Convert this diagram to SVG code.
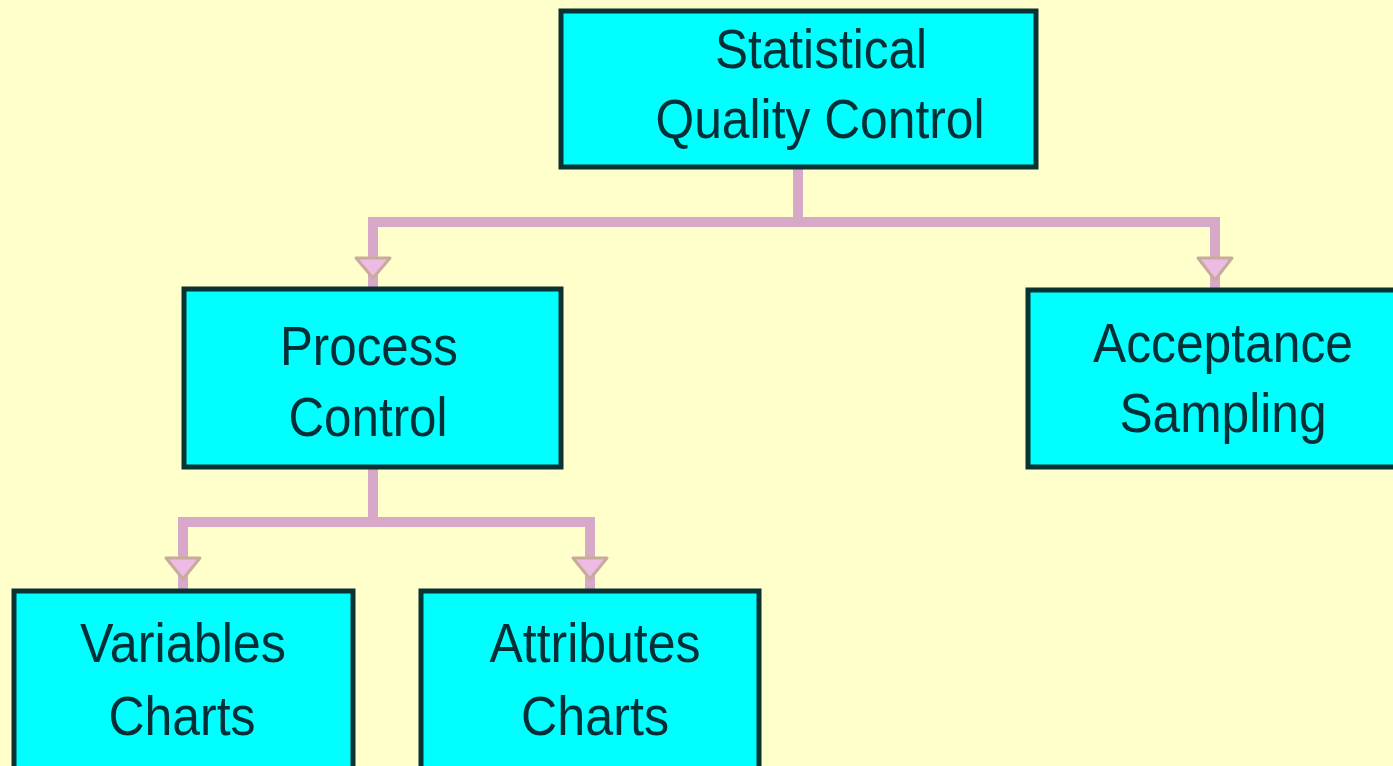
<svg xmlns="http://www.w3.org/2000/svg" width="1393" height="766" viewBox="0 0 1393 766">
<style>
.box{fill:#00FFFF;stroke:#0a3232;stroke-width:5}
.lbl{font-family:"Liberation Sans",Arial,sans-serif;font-size:56px;fill:#052f36;text-anchor:middle}
.con{stroke:#d8a8c8;stroke-width:10;fill:none;stroke-linecap:butt}
.arr{fill:#ecbce4;stroke:#c9ab9c;stroke-width:3;stroke-linejoin:round}
</style>
<rect x="0" y="0" width="1393" height="766" fill="#FFFFCC"/>
<g id="connectors">
<path class="con" d="M798 168 V222 M368 222 H1220 M373 222 V288 M1215 222 V288"/>
<path class="con" d="M373 468 V522 M178 522 H595 M183 522 V590 M590 522 V590"/>
<polygon class="arr" points="356,258 390,258 373,278"/>
<polygon class="arr" points="1198,258 1232,258 1215,280"/>
<polygon class="arr" points="166,558 200,558 183,579"/>
<polygon class="arr" points="573,558 607,558 590,579"/>
</g>
<g id="sqc">
<rect class="box" x="561" y="11" width="475" height="156"/>
<text class="lbl" x="821" y="68" textLength="212" lengthAdjust="spacingAndGlyphs">Statistical</text>
<text class="lbl" x="820" y="138" textLength="329" lengthAdjust="spacingAndGlyphs">Quality Control</text>
</g>
<g id="process">
<rect class="box" x="184" y="289" width="377" height="178"/>
<text class="lbl" x="369" y="365" textLength="178" lengthAdjust="spacingAndGlyphs">Process</text>
<text class="lbl" x="368" y="436" textLength="159" lengthAdjust="spacingAndGlyphs">Control</text>
</g>
<g id="acceptance">
<rect class="box" x="1028" y="290" width="380" height="177"/>
<text class="lbl" x="1223" y="362" textLength="260" lengthAdjust="spacingAndGlyphs">Acceptance</text>
<text class="lbl" x="1223" y="432" textLength="207" lengthAdjust="spacingAndGlyphs">Sampling</text>
</g>
<g id="variables">
<rect class="box" x="14" y="591" width="339" height="190"/>
<text class="lbl" x="183" y="662" textLength="206" lengthAdjust="spacingAndGlyphs">Variables</text>
<text class="lbl" x="182" y="735" textLength="147" lengthAdjust="spacingAndGlyphs">Charts</text>
</g>
<g id="attributes">
<rect class="box" x="421" y="591" width="338" height="190"/>
<text class="lbl" x="595" y="662" textLength="211" lengthAdjust="spacingAndGlyphs">Attributes</text>
<text class="lbl" x="595" y="735" textLength="148" lengthAdjust="spacingAndGlyphs">Charts</text>
</g>
</svg>
